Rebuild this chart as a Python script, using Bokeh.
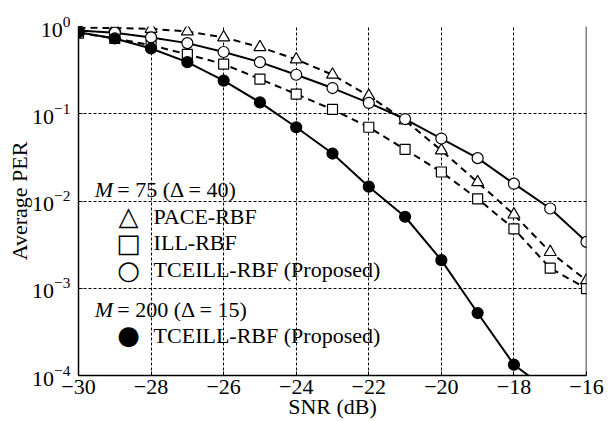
from bokeh.plotting import figure
from bokeh.models import Range1d, Span, Label, FixedTicker, LogTicker
from bokeh.embed import file_html
from bokeh.resources import INLINE

snr = [-30, -29, -28, -27, -26, -25, -24, -23, -22, -21, -20, -19, -18, -17, -16]
pace_rbf = [0.97, 0.96, 0.94, 0.877, 0.75, 0.58, 0.42, 0.28, 0.16, 0.084, 0.038, 0.0164, 0.0070, 0.0026, 0.00123]
ill_rbf = [0.84, 0.73, 0.61, 0.48, 0.37, 0.25, 0.168, 0.112, 0.070, 0.039, 0.0215, 0.0106, 0.0048, 0.0017, 0.00099]
tceill_75 = [0.9, 0.85, 0.75, 0.645, 0.51, 0.39, 0.28, 0.197, 0.133, 0.087, 0.052, 0.031, 0.0158, 0.0082, 0.0034]
snr_200 = [-30, -29, -28, -27, -26, -25, -24, -23, -22, -21, -20, -19, -18, -17]
tceill_200 = [0.86, 0.73, 0.56, 0.39, 0.24, 0.135, 0.070, 0.035, 0.0146, 0.0066, 0.0021, 0.00052, 0.000133, 0.000065]
x_ticks = [-30, -28, -26, -24, -22, -20, -18, -16]

FONT = "Liberation Serif"
FS = "22px"

p = figure(width=610, height=421, y_axis_type="log",
           x_range=Range1d(-30, -16), y_range=Range1d(1e-4, 1),
           output_backend="svg", toolbar_location=None,
           min_border_left=78, min_border_right=24, min_border_top=26, min_border_bottom=45)
p.outline_line_color = None
p.background_fill_color = "white"

p.xaxis.ticker = FixedTicker(ticks=x_ticks)
p.yaxis.ticker = LogTicker(desired_num_ticks=5)
for ax in (p.xaxis, p.yaxis):
    ax.axis_line_color = "black"
    ax.axis_line_width = 1.5
    ax.major_tick_in = 4
    ax.major_tick_out = 0
    ax.minor_tick_line_color = None
    ax.major_tick_line_color = "black"
    ax.major_label_text_font = FONT
    ax.major_label_text_font_size = FS
    ax.major_label_text_color = "black"
    ax.axis_label_text_font = FONT
    ax.axis_label_text_font_size = FS
    ax.axis_label_text_font_style = "normal"
    ax.axis_label_text_color = "black"
p.xaxis.axis_label = "SNR (dB)"
p.yaxis.axis_label = "Average PER"
p.xaxis.major_label_standoff = 4
p.xaxis.axis_label_standoff = -3
p.yaxis.major_label_standoff = 4
p.yaxis.axis_label_standoff = -3

for g in (p.xgrid, p.ygrid):
    g.grid_line_color = "black"
    g.grid_line_width = 1
    g.grid_line_dash = "3 2"
    g.grid_line_alpha = 1.0
p.ygrid.minor_grid_line_color = None

p.add_layout(Span(location=-16, dimension="height", line_color="black", line_width=1.5))

# lines
p.line(snr, pace_rbf, line_color="black", line_width=2, line_dash="7 5")
p.line(snr, ill_rbf, line_color="black", line_width=2, line_dash="7 5")
p.line(snr, tceill_75, line_color="black", line_width=2)
p.line(snr_200, tceill_200, line_color="black", line_width=2)

# markers
p.scatter(snr, pace_rbf, marker="triangle", size=12, fill_color="white", line_color="black", line_width=1.2)
p.scatter(snr, ill_rbf, marker="square", size=10, fill_color="white", line_color="black", line_width=1.2)
p.scatter(snr, tceill_75, marker="circle", size=11, fill_color="white", line_color="black", line_width=1.2)
p.scatter(snr_200, tceill_200, marker="circle", size=11, fill_color="black", line_color="black", line_width=1.2)

# legend (text-based)
def lab(x, y, text, style="normal", font=FONT, size=FS):
    p.add_layout(Label(x=x, y=y, text=text, text_font=font, text_font_size=size,
                       text_font_style=style, text_color="black",
                       text_align="left", text_baseline="middle"))

key_x = -28.62
txt_x = -27.93
lab(-29.55, 0.0135, "M", style="italic")
lab(-28.93, 0.0135, "= 75 (\u0394 = 40)")
rows = [(0.00668, "\u25B3", "PACE-RBF"), (0.00334, "\u25A1", "ILL-RBF"),
        (0.00164, "\u25CB", "TCEILL-RBF  (Proposed)")]
for yv, sym, t in rows:
    p.add_layout(Label(x=key_x, y=yv, text=sym, text_font="DejaVu Sans", text_font_size="26px",
                       text_color="black", text_align="center", text_baseline="middle"))
    lab(txt_x, yv, t)
lab(-29.55, 0.000571, "M", style="italic")
lab(-28.93, 0.000571, "= 200 (\u0394 = 15)")
p.add_layout(Label(x=key_x, y=0.000288, text="\u25CF", text_font="DejaVu Sans", text_font_size="26px",
                   text_color="black", text_align="center", text_baseline="middle"))
lab(txt_x, 0.000288, "TCEILL-RBF  (Proposed)")

open("out.html", "w").write(file_html(p, INLINE))
